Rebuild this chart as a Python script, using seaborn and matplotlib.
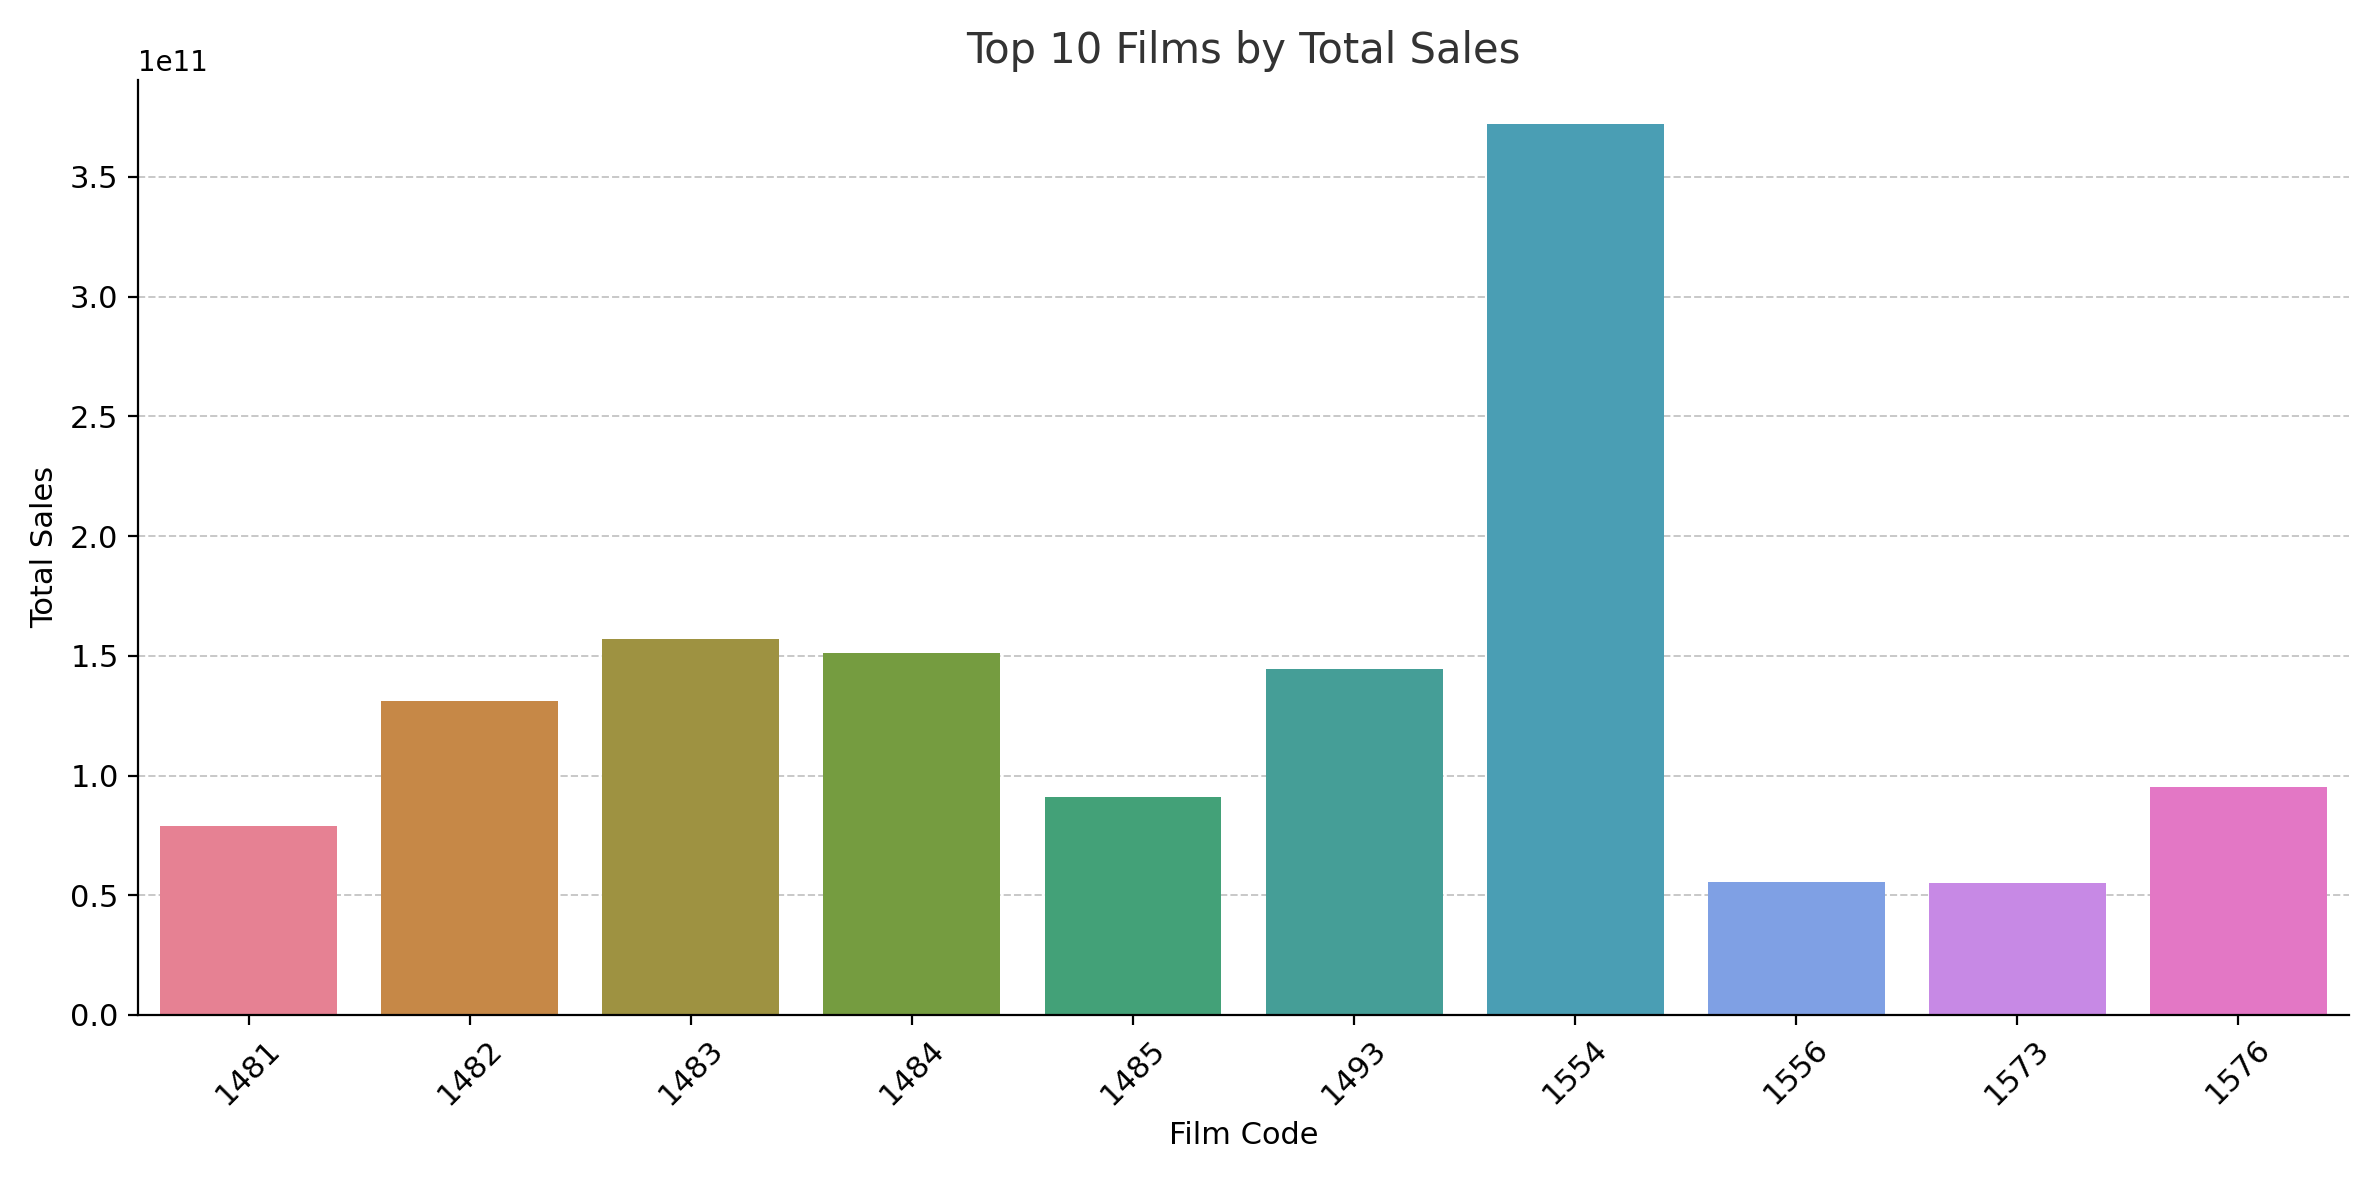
# Top 10 films by total sales - bar chart
import pandas as pd
import matplotlib.pyplot as plt
import seaborn as sns

# Data
film_codes = ['1481', '1482', '1483', '1484', '1485', '1493', '1554', '1556', '1573', '1576']
total_sales = [0.79e11, 1.31e11, 1.57e11, 1.51e11, 0.91e11, 1.445e11, 3.72e11, 0.555e11, 0.55e11, 0.953e11]

df = pd.DataFrame({'Film Code': film_codes, 'Total Sales': total_sales})

plt.figure(figsize=(11.895, 5.9), dpi=200)
ax = sns.barplot(data=df, x='Film Code', y='Total Sales', hue='Film Code',
                 palette='husl', saturation=0.75, legend=False)
ax.set_title('Top 10 Films by Total Sales', fontsize=15, color='#333333')
ax.set_xlabel('Film Code', fontsize=11)
ax.set_ylabel('Total Sales', fontsize=11)
ax.tick_params(axis='both', labelsize=11)
plt.xticks(rotation=45)
ax.yaxis.grid(True, linestyle='--', color='#c8c8c8', linewidth=0.7)
ax.set_axisbelow(True)
sns.despine()
plt.tight_layout()
plt.savefig("out.png", dpi=200)
plt.close()
